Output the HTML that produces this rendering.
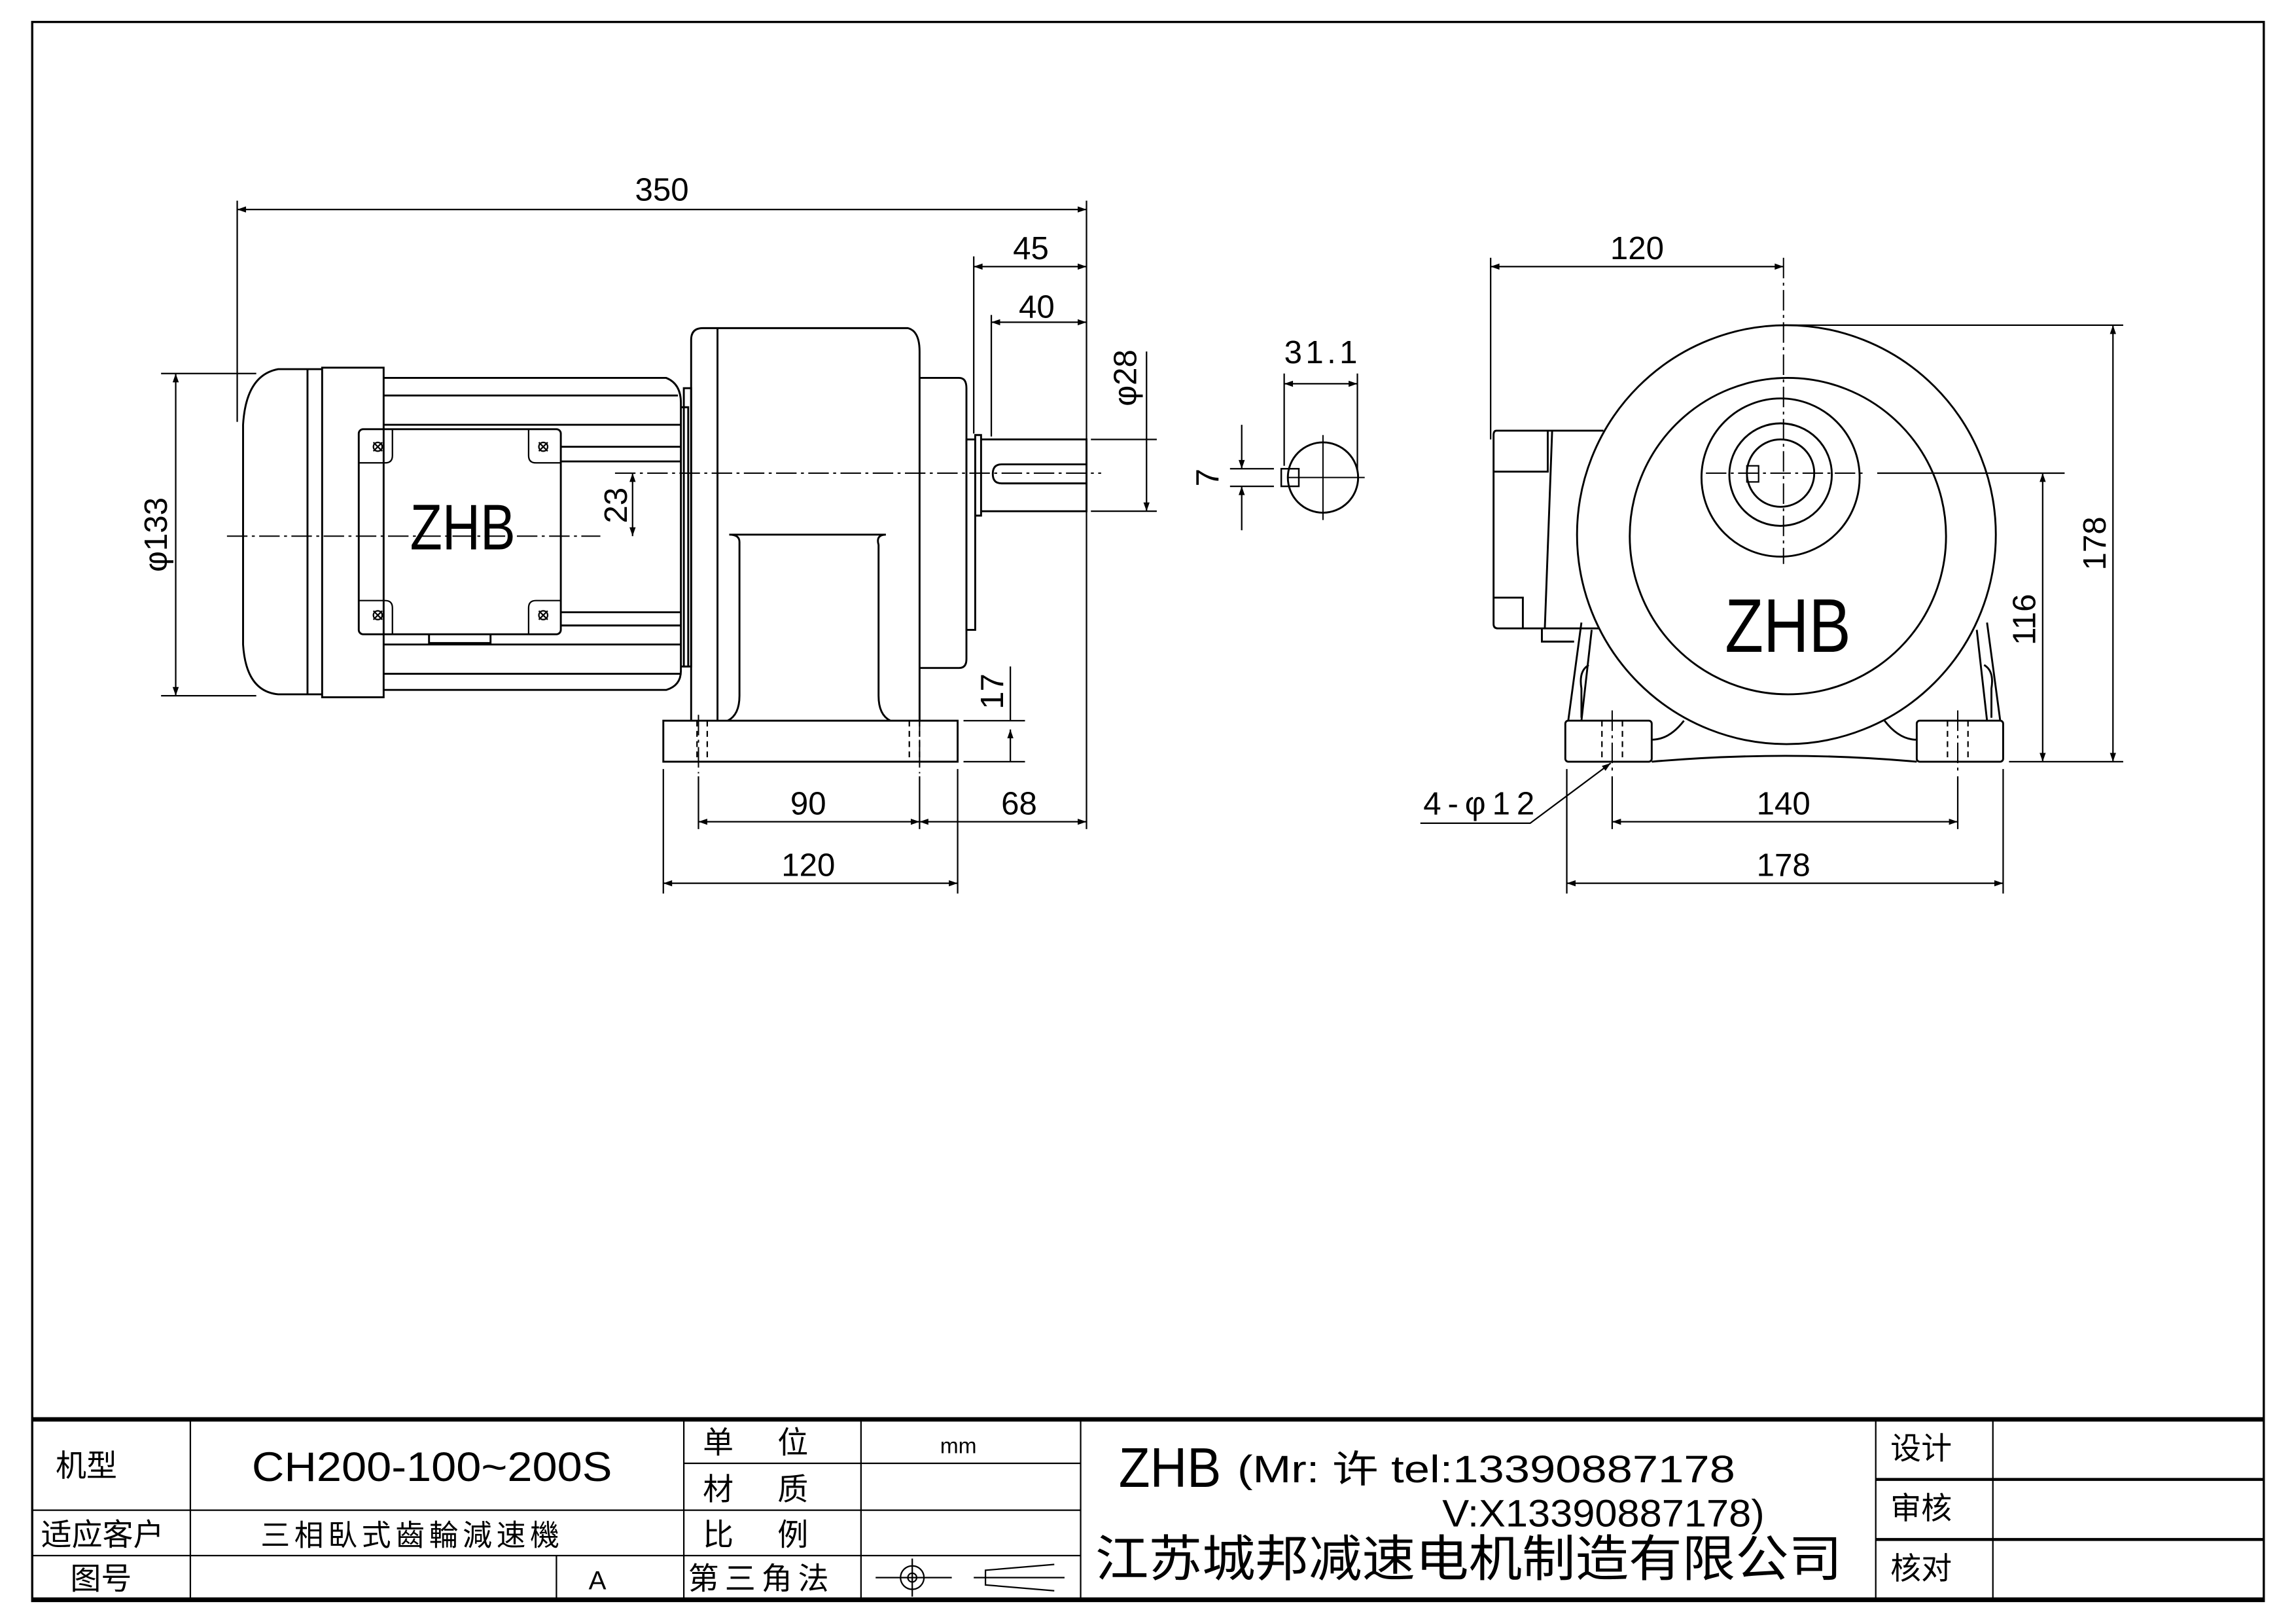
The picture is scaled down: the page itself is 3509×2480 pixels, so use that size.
<!DOCTYPE html>
<html><head><meta charset="utf-8"><style>
html,body{margin:0;padding:0;background:#fff}
svg{display:block}
text{font-family:"Liberation Sans","Noto Sans CJK SC",sans-serif;fill:#000}
</style></head><body>
<svg width="3509" height="2480" viewBox="0 0 1568 1108" preserveAspectRatio="none" xmlns="http://www.w3.org/2000/svg">
<defs>
<marker id="a" viewBox="0 0 10 10" refX="10" refY="5" markerWidth="9" markerHeight="6" orient="auto-start-reverse" markerUnits="userSpaceOnUse"><path d="M0,1.5 L10,5 L0,8.5 z" fill="#000"/></marker>
</defs>
<rect x="0" y="0" width="1568" height="1108" fill="#fff"/>
<rect x="22" y="15" width="1524" height="1078" fill="none" stroke="#000" stroke-width="1.5"/>
<g fill="none" stroke="#000" stroke-width="1.3">
<path d="M220,252 H190 Q168,256 166,290 V440 Q168,472 190,474 H220"/>
<path d="M210,252 V474"/>
<rect x="220" y="251" width="42" height="225"/>
<path d="M262,258 H455 Q465,262 465,275 V458 Q465,468 455,471 H262"/>
<path d="M465,278 H470 V455 H465"/>
<line x1="262" y1="270" x2="463" y2="270"/><line x1="262" y1="290" x2="465" y2="290"/>
<line x1="383" y1="305" x2="465" y2="305"/><line x1="383" y1="315" x2="465" y2="315"/>
<line x1="383" y1="418" x2="465" y2="418"/><line x1="383" y1="427" x2="465" y2="427"/>
<line x1="262" y1="440" x2="465" y2="440"/><line x1="262" y1="460" x2="465" y2="460"/>
<rect x="245" y="293" width="138" height="140" rx="3"/>
<path d="M293,433 V439 H335 V433"/>
<g stroke-width="1">
<circle cx="258" cy="305" r="3"/><circle cx="371" cy="305" r="3"/><circle cx="258" cy="420" r="3"/><circle cx="371" cy="420" r="3"/>
<path d="M255,302l6,6M261,302l-6,6M368,302l6,6M374,302l-6,6M255,417l6,6M261,417l-6,6M368,417l6,6M374,417l-6,6"/>
<path d="M245,316 H263 Q268,316 268,311 V293 M383,316 H366 Q361,316 361,311 V293 M245,410 H263 Q268,410 268,415 V433 M383,410 H366 Q361,410 361,415 V433"/>
</g>
<rect x="467" y="265" width="5" height="190"/>
<path d="M472,492 V232 Q472,224 480,224 H620 Q628,226 628,240 V492"/>
<line x1="490" y1="224" x2="490" y2="492"/>
<path d="M497,492 Q505,488 505,475 V370 Q505,365 498,365 H605 Q598,365 600,372 V475 Q600,488 608,492"/>
<path d="M628,258 H655 Q660,258 660,265 V450 Q660,456 655,456 H628"/>
<rect x="660" y="300" width="6" height="130"/>
<path d="M666,297 H670 V352 H666 Z"/>
<path d="M670,300 H742 V349 H670"/>
<path d="M742,317 H684 Q678,317 678,323.5 Q678,330 684,330 H742"/>
<rect x="453" y="492" width="201" height="28"/>
<g stroke-dasharray="4,3" stroke-width="1"><line x1="476" y1="492" x2="476" y2="520"/><line x1="483" y1="492" x2="483" y2="520"/><line x1="621" y1="492" x2="621" y2="520"/><line x1="628" y1="492" x2="628" y2="520"/></g>
<g stroke-width="0.9" stroke-dasharray="14,3,2,3">
<line x1="155" y1="366" x2="410" y2="366"/>
<line x1="420" y1="323" x2="752" y2="323"/>
<line x1="477" y1="488" x2="477" y2="528"/><line x1="628" y1="488" x2="628" y2="528"/>
</g>
<g stroke-width="1">
<line x1="162" y1="137" x2="162" y2="288"/><line x1="742" y1="137" x2="742" y2="566"/>
<line x1="162" y1="143" x2="742" y2="143" marker-start="url(#a)" marker-end="url(#a)"/>
<line x1="665" y1="175" x2="665" y2="296"/>
<line x1="665" y1="182" x2="742" y2="182" marker-start="url(#a)" marker-end="url(#a)"/>
<line x1="677" y1="215" x2="677" y2="298"/>
<line x1="677" y1="220" x2="742" y2="220" marker-start="url(#a)" marker-end="url(#a)"/>
<line x1="745" y1="300" x2="790" y2="300"/><line x1="745" y1="349" x2="790" y2="349"/>
<line x1="783" y1="240" x2="783" y2="349" marker-end="url(#a)"/>
<line x1="110" y1="255" x2="175" y2="255"/><line x1="110" y1="475" x2="175" y2="475"/>
<line x1="120" y1="255" x2="120" y2="475" marker-start="url(#a)" marker-end="url(#a)"/>
<line x1="432" y1="323" x2="432" y2="366" marker-start="url(#a)" marker-end="url(#a)"/>
<line x1="658" y1="492" x2="700" y2="492"/><line x1="658" y1="520" x2="700" y2="520"/>
<line x1="690" y1="455" x2="690" y2="492"/>
<line x1="690" y1="520" x2="690" y2="498" marker-end="url(#a)"/>
<line x1="453" y1="525" x2="453" y2="610"/><line x1="654" y1="525" x2="654" y2="610"/>
<line x1="477" y1="530" x2="477" y2="566"/><line x1="628" y1="530" x2="628" y2="566"/>
<line x1="477" y1="561" x2="628" y2="561" marker-start="url(#a)" marker-end="url(#a)"/>
<line x1="628" y1="561" x2="742" y2="561" marker-start="url(#a)" marker-end="url(#a)"/>
<line x1="453" y1="603" x2="654" y2="603" marker-start="url(#a)" marker-end="url(#a)"/>
</g>
<circle cx="903.5" cy="326" r="24"/>
<rect x="875" y="320" width="12" height="12" stroke-width="1.1"/>
<g stroke-width="0.9"><line x1="880" y1="326" x2="932" y2="326"/><line x1="903.5" y1="297" x2="903.5" y2="355"/></g>
<g stroke-width="1">
<line x1="877" y1="255" x2="877" y2="318"/><line x1="927" y1="255" x2="927" y2="322"/>
<line x1="877" y1="262" x2="927" y2="262" marker-start="url(#a)" marker-end="url(#a)"/>
<line x1="840" y1="320" x2="870" y2="320"/><line x1="840" y1="332" x2="870" y2="332"/>
<line x1="848" y1="290" x2="848" y2="320" marker-end="url(#a)"/>
<line x1="848" y1="362" x2="848" y2="332" marker-end="url(#a)"/>
</g>
<path d="M1095,294 H1022 Q1020,294 1020,297 V426 Q1020,429 1023,429 H1095"/>
<path d="M1020,322 H1057 V294 M1020,408 H1040 V429"/>
<line x1="1060" y1="294" x2="1055" y2="429"/>
<path d="M1053,429 V438 H1075"/>
<circle cx="1220" cy="365" r="143" fill="#fff"/>
<circle cx="1221" cy="366" r="108"/>
<circle cx="1216" cy="326" r="54"/>
<circle cx="1216" cy="324" r="35"/>
<circle cx="1216" cy="323" r="23"/>
<rect x="1193" y="318" width="8" height="11" stroke-width="1"/>
<path d="M1080,425 L1071,492 M1087,430 L1080,492 M1357,425 L1366,492 M1350,430 L1357,492"/>
<path d="M1085,454 Q1078,458 1080,470 V490 M1355,454 Q1362,458 1360,470 V490"/>
<path d="M1128,520 Q1220,512 1309,520"/>
<path d="M1128,505 Q1140,505 1150,492 M1309,505 Q1297,505 1287,492"/>
<rect x="1069" y="492" width="59" height="28" rx="2" fill="#fff"/>
<rect x="1309" y="492" width="59" height="28" rx="2" fill="#fff"/>
<g stroke-dasharray="4,3" stroke-width="1"><line x1="1094" y1="492" x2="1094" y2="520"/><line x1="1108" y1="492" x2="1108" y2="520"/><line x1="1330" y1="492" x2="1330" y2="520"/><line x1="1344" y1="492" x2="1344" y2="520"/></g>
<g stroke-width="0.9" stroke-dasharray="14,3,2,3">
<line x1="1218" y1="176" x2="1218" y2="385"/>
<line x1="1165" y1="323" x2="1275" y2="323"/>
<line x1="1101" y1="485" x2="1101" y2="527"/><line x1="1337" y1="485" x2="1337" y2="527"/>
</g>
<line x1="1282" y1="323" x2="1410" y2="323" stroke-width="1"/>
<g stroke-width="1">
<line x1="1018" y1="176" x2="1018" y2="300"/>
<line x1="1018" y1="182" x2="1218" y2="182" marker-start="url(#a)" marker-end="url(#a)"/>
<line x1="1222" y1="222" x2="1450" y2="222"/><line x1="1372" y1="520" x2="1450" y2="520"/>
<line x1="1443" y1="222" x2="1443" y2="520" marker-start="url(#a)" marker-end="url(#a)"/>
<line x1="1395" y1="323" x2="1395" y2="520" marker-start="url(#a)" marker-end="url(#a)"/>
<line x1="1070" y1="525" x2="1070" y2="610"/><line x1="1368" y1="525" x2="1368" y2="610"/>
<line x1="1101" y1="530" x2="1101" y2="566"/><line x1="1337" y1="530" x2="1337" y2="566"/>
<line x1="1101" y1="561" x2="1337" y2="561" marker-start="url(#a)" marker-end="url(#a)"/>
<line x1="1070" y1="603" x2="1368" y2="603" marker-start="url(#a)" marker-end="url(#a)"/>
<path d="M970,562 H1045 L1100,521" marker-end="url(#a)"/>
</g>
<line x1="22" y1="969" x2="1546" y2="969" stroke-width="3"/>
<line x1="22" y1="1092" x2="1546" y2="1092" stroke-width="3"/>
<g stroke-width="1">
<line x1="130" y1="969" x2="130" y2="1092"/><line x1="467" y1="969" x2="467" y2="1092"/>
<line x1="588" y1="969" x2="588" y2="1092"/><line x1="738" y1="969" x2="738" y2="1092"/>
<line x1="1281" y1="969" x2="1281" y2="1092"/><line x1="1361" y1="969" x2="1361" y2="1092"/>
<line x1="380" y1="1062" x2="380" y2="1092"/>
<line x1="22" y1="1031" x2="467" y2="1031"/><line x1="22" y1="1062" x2="738" y2="1062"/>
<line x1="467" y1="999" x2="738" y2="999"/><line x1="467" y1="1031" x2="738" y2="1031"/>
<line x1="598" y1="1077" x2="650" y2="1077"/>
<circle cx="623" cy="1077" r="8"/><circle cx="623" cy="1077" r="3"/>
<line x1="623" y1="1064" x2="623" y2="1090"/>
<path d="M720,1068 L673,1072 V1082 L720,1086"/>
<line x1="665" y1="1077" x2="727" y2="1077"/>
</g>
<line x1="1281" y1="1010" x2="1546" y2="1010" stroke-width="2"/>
<line x1="1281" y1="1051" x2="1546" y2="1051" stroke-width="2"/>
</g>
<g font-size="22">
<text x="452" y="137" text-anchor="middle">350</text>
<text x="704" y="177" text-anchor="middle">45</text>
<text x="708" y="217" text-anchor="middle">40</text>
<text x="877" y="248" textLength="50" lengthAdjust="spacing">31.1</text>
<text x="1118" y="177" text-anchor="middle">120</text>
<text x="552" y="556" text-anchor="middle">90</text>
<text x="696" y="556" text-anchor="middle">68</text>
<text x="552" y="598" text-anchor="middle">120</text>
<text x="1218" y="556" text-anchor="middle">140</text>
<text x="1218" y="598" text-anchor="middle">178</text>
<text x="972" y="556" textLength="76" lengthAdjust="spacing">4-φ12</text>
<text transform="translate(776,258) rotate(-90)" text-anchor="middle">φ28</text>
<text transform="translate(114,365) rotate(-90)" text-anchor="middle">φ133</text>
<text transform="translate(428,345) rotate(-90)" text-anchor="middle">23</text>
<text transform="translate(685,472) rotate(-90)" text-anchor="middle">17</text>
<text transform="translate(832,326) rotate(-90)" text-anchor="middle">7</text>
<text transform="translate(1438,371) rotate(-90)" text-anchor="middle">178</text>
<text transform="translate(1390,423) rotate(-90)" text-anchor="middle">116</text>
</g>
<text x="280" y="375" font-size="44" textLength="72" lengthAdjust="spacingAndGlyphs">ZHB</text>
<text x="1178" y="445" font-size="52" textLength="86" lengthAdjust="spacingAndGlyphs">ZHB</text>
<g font-size="21">
<text x="38" y="1008">机型</text>
<text x="172" y="1011" font-size="28" textLength="246" lengthAdjust="spacingAndGlyphs">CH200-100~200S</text>
<text x="480" y="992" textLength="72" lengthAdjust="spacing">单位</text>
<text x="642" y="992" font-size="15">mm</text>
<text x="480" y="1024" textLength="72" lengthAdjust="spacing">材质</text>
<text x="28" y="1055">适应客户</text>
<text x="178" y="1055" font-size="20" textLength="204" lengthAdjust="spacing">三相臥式齒輪減速機</text>
<text x="480" y="1055" textLength="72" lengthAdjust="spacing">比例</text>
<text x="48" y="1085">图号</text>
<text x="402" y="1085" font-size="18">A</text>
<text x="470" y="1085" textLength="96" lengthAdjust="spacing">第三角法</text>
<text x="764" y="1015" font-size="38" textLength="70" lengthAdjust="spacingAndGlyphs">ZHB</text>
<text x="845" y="1012" font-size="26" textLength="340" lengthAdjust="spacingAndGlyphs">(Mr: 许 tel:13390887178</text>
<text x="985" y="1042" font-size="26" textLength="220" lengthAdjust="spacingAndGlyphs">V:X13390887178)</text>
<text x="748" y="1076" font-size="34" textLength="510" lengthAdjust="spacingAndGlyphs">江苏城邦减速电机制造有限公司</text>
<text x="1291" y="996">设计</text>
<text x="1291" y="1037">审核</text>
<text x="1291" y="1078">核对</text>
</g>
</svg>
</body></html>
